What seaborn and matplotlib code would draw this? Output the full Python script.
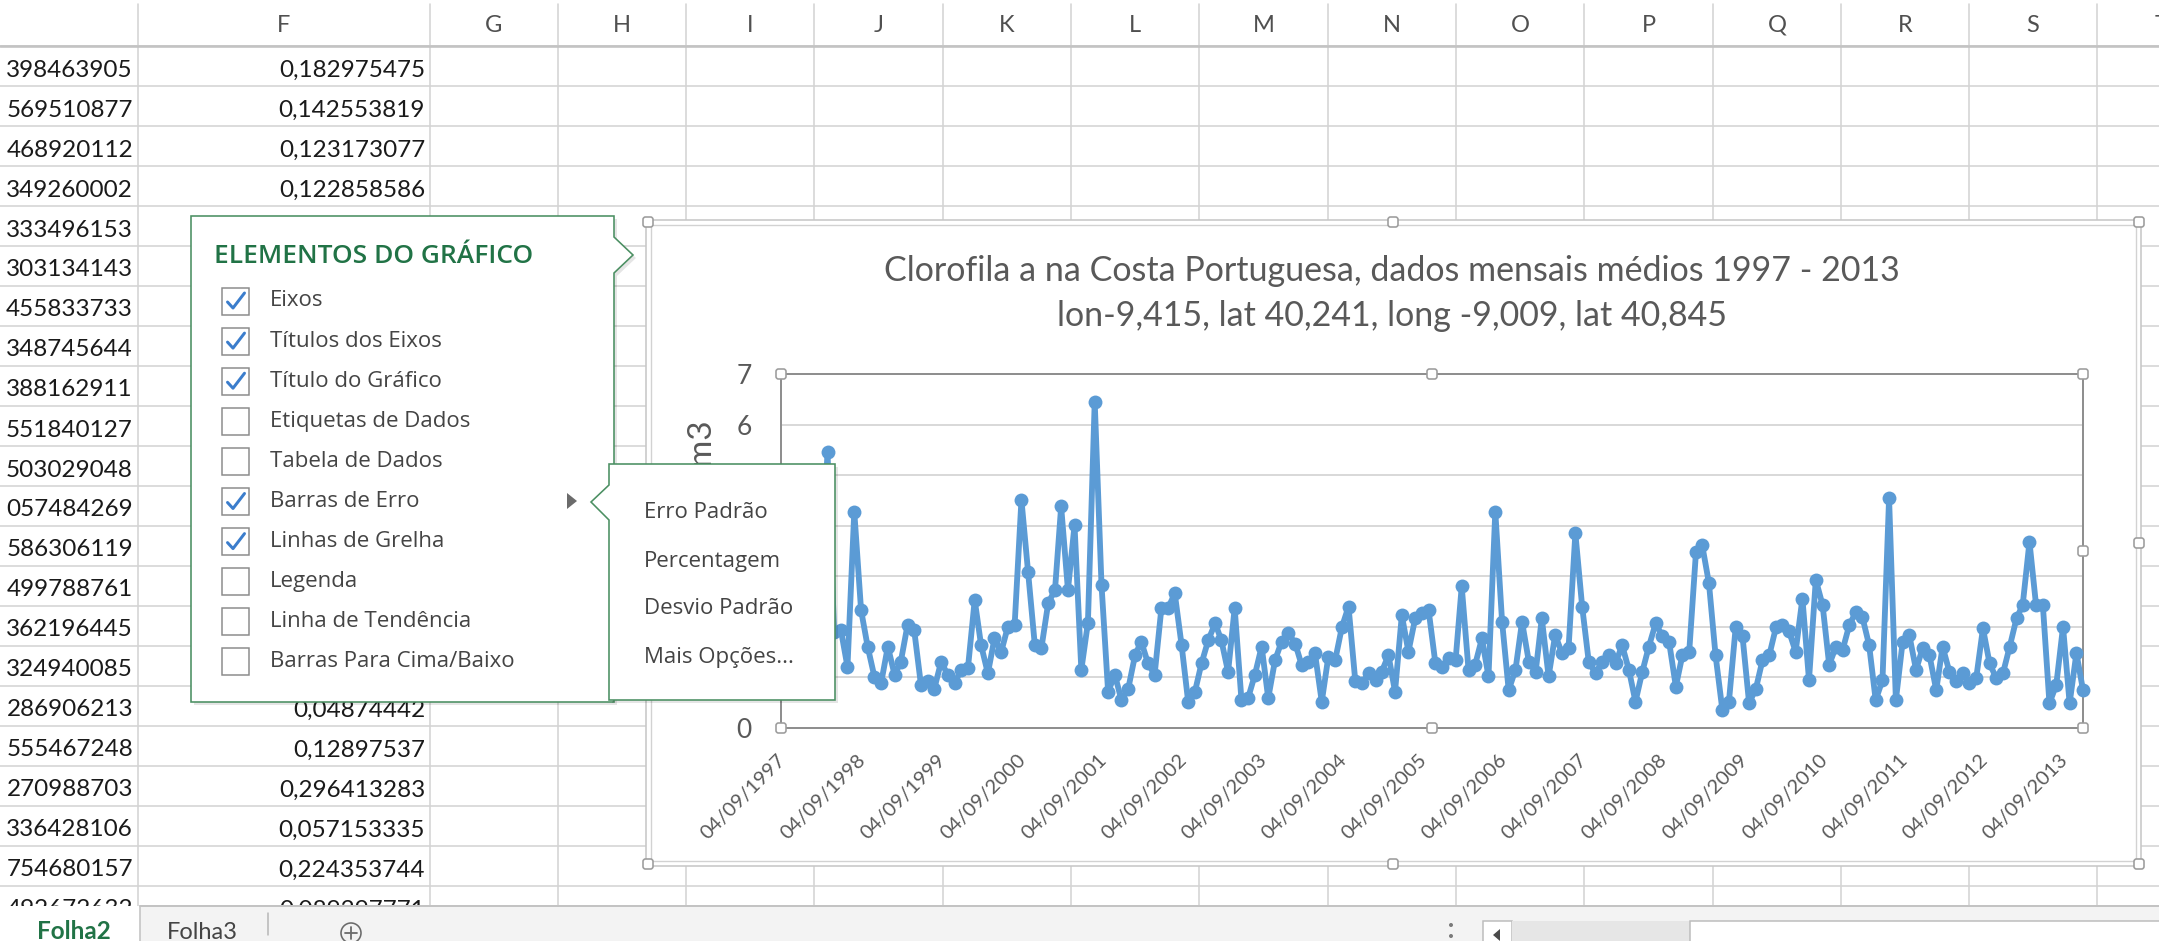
import numpy as np
import pandas as pd
import matplotlib
matplotlib.use("Agg")
import matplotlib.pyplot as plt
import matplotlib.dates as mdates
import matplotlib.transforms as mtransforms
from matplotlib.patches import Rectangle, Polygon, FancyBboxPatch, Circle
import seaborn as sns

# ---------------------------------------------------------------- data
# Monthly mean chlorophyll a (mg/m3), Sep 1997 - Dec 2013
chl_1997_1999 = [1.35, 1.10, 0.95, 1.20, 1.60, 2.10, 2.60, 5.46, 1.90, 1.94, 1.21, 4.28,
                 2.33, 1.61, 1.01, 0.88, 1.61, 1.05, 1.31, 2.04, 1.94, 0.85, 0.92, 0.78,
                 1.31, 1.05, 0.88, 1.15]
chl_2000_2003 = [1.18, 2.53, 1.64, 1.08, 1.77, 1.51, 2.00, 2.04, 4.51, 3.09, 1.64, 1.58,
                 2.47, 2.73, 4.38, 2.73, 4.01, 1.15, 2.08, 6.45, 2.83, 0.72, 1.05, 0.55,
                 0.78, 1.44, 1.71, 1.28, 1.05, 2.37, 2.37, 2.66, 1.64, 0.52, 0.72, 1.28,
                 1.74, 2.07, 1.74, 1.11, 2.37, 0.55, 0.59, 1.05, 1.61, 0.59, 1.34, 1.71]
chl_2004_2007 = [1.87, 1.67, 1.25, 1.31, 1.48, 0.52, 1.41, 1.34, 2.00, 2.40, 0.92, 0.88,
                 1.08, 0.95, 1.11, 1.44, 0.72, 2.23, 1.51, 2.17, 2.27, 2.33, 1.28, 1.21,
                 1.38, 1.34, 2.80, 1.15, 1.25, 1.77, 1.02, 4.28, 2.10, 0.75, 1.15, 2.10,
                 1.31, 1.11, 2.17, 1.02, 1.84, 1.48, 1.58, 3.85, 2.40, 1.31, 1.08, 1.31]
chl_2008_2011 = [1.44, 1.28, 1.64, 1.15, 0.52, 1.11, 1.61, 2.07, 1.81, 1.71, 0.82, 1.44,
                 1.51, 3.49, 3.62, 2.86, 1.44, 0.36, 0.52, 2.00, 1.81, 0.49, 0.78, 1.34,
                 1.44, 2.00, 2.04, 1.91, 1.51, 2.56, 0.95, 2.93, 2.43, 1.25, 1.61, 1.54,
                 2.04, 2.30, 2.20, 1.64, 0.55, 0.95, 4.54, 0.55, 1.71, 1.84, 1.15, 1.58]
chl_2012_2013 = [1.44, 0.75, 1.61, 1.11, 0.92, 1.08, 0.88, 0.98, 1.97, 1.28, 0.98, 1.08,
                 1.61, 2.17, 2.43, 3.68, 2.43, 2.43, 0.49, 0.85, 2.00, 0.49, 1.48, 0.75]

tick_labels = ["04/09/1997", "04/09/1998", "04/09/1999", "04/09/2000", "04/09/2001",
               "04/09/2002", "04/09/2003", "04/09/2004", "04/09/2005", "04/09/2006",
               "04/09/2007", "04/09/2008", "04/09/2009", "04/09/2010", "04/09/2011",
               "04/09/2012", "04/09/2013"]
y_ticks = [0, 1, 2, 3, 4, 5, 6, 7]

chart_title = ["Clorofila a na Costa Portuguesa, dados mensais médios 1997 - 2013",
               "lon-9,415, lat 40,241, long -9,009, lat 40,845"]
y_title = "Clorofila a mg/m3"

# spreadsheet contents
col_letters = ["F", "G", "H", "I", "J", "K", "L", "M", "N", "O", "P", "Q", "R", "S", "T"]
col_e = ["398463905", "569510877", "468920112", "349260002", "333496153", "303134143",
         "455833733", "348745644", "388162911", "551840127", "503029048", "057484269",
         "586306119", "499788761", "362196445", "324940085", "286906213", "555467248",
         "270988703", "336428106", "754680157", "492672632"]
col_f = ["0,182975475", "0,142553819", "0,123173077", "0,122858586", None, None, None,
         None, None, None, None, None, None, None, None, None, "0,04874442", "0,12897537",
         "0,296413283", "0,057153335", "0,224353744", "0,089297771"]

menu_title = "ELEMENTOS DO GRÁFICO"
menu_items = ["Eixos", "Títulos dos Eixos", "Título do Gráfico", "Etiquetas de Dados",
              "Tabela de Dados", "Barras de Erro", "Linhas de Grelha", "Legenda",
              "Linha de Tendência", "Barras Para Cima/Baixo"]
menu_checked = [True, True, True, False, False, True, True, False, False, False]
submenu_items = ["Erro Padrão", "Percentagem", "Desvio Padrão", "Mais Opções..."]
sheet_tabs = ["Folha2", "Folha3"]

chl = chl_1997_1999 + chl_2000_2003 + chl_2004_2007 + chl_2008_2011 + chl_2012_2013
dates = pd.date_range("1997-09-01", periods=len(chl), freq="MS") + pd.Timedelta(days=3)
df = pd.DataFrame({"data": dates, "chl": chl})
tick_dates = pd.to_datetime(tick_labels, format="%d/%m/%Y")

# ---------------------------------------------------------------- style
sns.set_style("white")
plt.rcParams["font.family"] = ["Lato", "DejaVu Sans"]
UI_FONT = ["Open Sans", "DejaVu Sans"]

W, H = 2159, 941
PT = 0.72                     # points per pixel at 100 dpi
BLUE = "#5B9BD5"
GREEN = "#217346"
TXT = "#595959"
GRID = "#d4d4d4"

fig = plt.figure(figsize=(W / 100, H / 100), dpi=100)

# ---------------------------------------------------------------- worksheet
bg = fig.add_axes([0, 0, 1, 1], zorder=0)
bg.set_xlim(0, W)
bg.set_ylim(H, 0)
bg.axis("off")

col_edges = [138, 430, 558, 686, 814, 943, 1071, 1199, 1328, 1456, 1584, 1713, 1841,
             1969, 2097, 2226]
for x in col_edges:
    bg.plot([x, x], [4, 906], color=GRID, lw=1.6 * PT, zorder=1)
for k in range(22):
    y = 46 + 40 * k
    bg.plot([0, W], [y, y], color=GRID, lw=1.6 * PT, zorder=1)
bg.plot([0, W], [46, 46], color="#c3c3c3", lw=2.6 * PT, zorder=1.5)

for i, letter in enumerate(col_letters):
    cx = (col_edges[i] + col_edges[i + 1]) / 2
    if letter == "T":
        cx = 2162
    bg.text(cx, 25, letter, ha="center", va="center", fontsize=17, color="#505050",
            zorder=2)

for k in range(22):
    yc = 70 + 40 * k
    bg.text(133, yc, col_e[k], ha="right", va="center", fontsize=17.5, color="#1a1a1a",
            zorder=2)
    if col_f[k] is not None:
        bg.text(425, yc, col_f[k], ha="right", va="center", fontsize=17.5,
                color="#1a1a1a", zorder=2)

# chart area (selected: double grey frame)
bg.add_patch(Rectangle((646, 220), 2141 - 646, 866 - 220, facecolor="white",
                       edgecolor="#c8c8c8", lw=1.6 * PT, zorder=3))
bg.add_patch(Rectangle((651, 225), 2136 - 651, 861 - 225, facecolor="none",
                       edgecolor="#d2d2d2", lw=1.4 * PT, zorder=3.1))
bg.text(1392, 271, chart_title[0], ha="center", va="center", fontsize=24.5, color=TXT,
        zorder=5)
bg.text(1392, 316, chart_title[1], ha="center", va="center", fontsize=24.5, color=TXT,
        zorder=5)

# sheet tab bar
bg.add_patch(Rectangle((0, 906), W, 40, facecolor="#f3f3f3", edgecolor="none", zorder=6))
bg.add_patch(Rectangle((0, 906), 140, 40, facecolor="white", edgecolor="none", zorder=6.1))
bg.plot([140, W], [906, 906], color="#c3c3c3", lw=2 * PT, zorder=6.2)
bg.plot([140, 140], [906, 941], color="#c3c3c3", lw=1.6 * PT, zorder=6.2)
bg.text(74, 939, sheet_tabs[0], ha="center", va="baseline", fontsize=17.5,
        fontweight="bold", color=GREEN, zorder=7)
bg.text(202, 939, sheet_tabs[1], ha="center", va="baseline", fontsize=17,
        color="#444444", zorder=7)
bg.plot([268, 268], [913, 935], color="#b5b5b5", lw=1.5 * PT, zorder=7)
bg.add_patch(Circle((351, 933), 10, facecolor="none", edgecolor="#6a6a6a", lw=1.6 * PT,
                    zorder=7))
bg.plot([345, 357], [933, 933], color="#6a6a6a", lw=1.8 * PT, zorder=7)
bg.plot([351, 351], [927, 939], color="#6a6a6a", lw=1.8 * PT, zorder=7)
for yy in (925, 936):
    bg.add_patch(Circle((1451, yy), 2, facecolor="#7a7a7a", edgecolor="none", zorder=7))
bg.add_patch(Rectangle((1483, 921), 29, 30, facecolor="white", edgecolor="#bcbcbc",
                       lw=1.5 * PT, zorder=7))
bg.add_patch(Polygon([(1500, 929), (1500, 941), (1493, 935)], closed=True,
                     facecolor="#4a4a4a", edgecolor="none", zorder=7.1))
bg.add_patch(Rectangle((1512, 921), 178, 30, facecolor="#e6e6e6", edgecolor="none",
                       zorder=7))
bg.add_patch(Rectangle((1690, 921), 480, 30, facecolor="white", edgecolor="#bcbcbc",
                       lw=1.5 * PT, zorder=7))

# ---------------------------------------------------------------- line chart
L, R, T, B = 781, 2083, 374, 728
ax = fig.add_axes([L / W, 1 - B / H, (R - L) / W, (B - T) / H], zorder=5)
ax.patch.set_alpha(0)
sns.lineplot(data=df, x="data", y="chl", ax=ax, color=BLUE, lw=4.2, marker="o",
             markersize=10, markeredgewidth=0, clip_on=False, zorder=3)

ax.set_xlim(mdates.date2num(dates[0]), mdates.date2num(dates[-1]))
ax.set_ylim(0, 7)
ax.set_yticks(y_ticks)
ax.set_yticklabels([str(v) for v in y_ticks])
ax.set_xticks(mdates.date2num(tick_dates.to_pydatetime()))
ax.set_xticklabels(tick_labels, rotation=45, ha="right", va="center",
                   rotation_mode="anchor")
ax.grid(axis="y", color="#d9d9d9", lw=2 * PT)
ax.grid(axis="x", visible=False)
ax.set_axisbelow(True)
for sp in ax.spines.values():
    sp.set_color("#8f8f8f")
    sp.set_linewidth(2 * PT)
ax.tick_params(axis="y", length=0, pad=21, labelsize=19, labelcolor=TXT)
ax.tick_params(axis="x", direction="out", length=6 * PT, width=1.5 * PT,
               color="#a6a6a6", pad=17, labelsize=14.5, labelcolor=TXT)
shift = mtransforms.ScaledTranslation(2 / 100, 0, fig.dpi_scale_trans)
for lab in ax.get_xticklabels():
    lab.set_transform(lab.get_transform() + shift)
ax.set_xlabel("")
ax.set_ylabel(y_title, fontsize=24, color=TXT)
ax.yaxis.set_label_coords((718 - L) / (R - L), (B - 553) / (B - T))

# ---------------------------------------------------------------- overlay
ov = fig.add_axes([0, 0, 1, 1], zorder=20)
ov.set_xlim(0, W)
ov.set_ylim(H, 0)
ov.axis("off")


def handle(x, y):
    ov.add_patch(FancyBboxPatch((x - 5, y - 5), 10, 10,
                                boxstyle="round,pad=0,rounding_size=2.5",
                                facecolor="white", edgecolor="#9c9c9c",
                                lw=1.6 * PT, zorder=2))


for hx, hy in [(L, T), ((L + R) / 2, T), (R, T), (R, (T + B) / 2), (R, B),
               ((L + R) / 2, B), (L, B), (L, (T + B) / 2)]:
    handle(hx, hy)
for hx, hy in [(648, 222), (1393, 222), (2139, 222), (2139, 543), (2139, 864),
               (1393, 864), (648, 864), (648, 543)]:
    handle(hx, hy)

# chart elements panel
main_pts = [(191, 216), (614, 216), (614, 237), (633, 255), (614, 273), (614, 702),
            (191, 702)]
ov.add_patch(Polygon([(x + 3, y + 3) for x, y in main_pts], closed=True,
                     facecolor=(0, 0, 0, 0.10), edgecolor="none", zorder=5))
ov.add_patch(Polygon(main_pts, closed=True, facecolor="white", edgecolor="#4b8f62",
                     lw=1.6 * PT, zorder=5.1))
ov.text(214, 256, menu_title, ha="left", va="center", fontsize=19,
        fontweight="semibold", color=GREEN, family=UI_FONT, zorder=6)
for k, (item, on) in enumerate(zip(menu_items, menu_checked)):
    yc = 301 + 40.1 * k
    ov.add_patch(Rectangle((222, yc - 13.5), 27, 27, facecolor="white",
                           edgecolor="#8a8a8a", lw=1.5 * PT, zorder=6))
    if on:
        ov.plot([227.5, 233, 244.5], [yc + 1, yc + 7, yc - 8], color="#3b7dcc",
                lw=3 * PT, solid_capstyle="round", solid_joinstyle="round", zorder=7)
    ov.text(270, yc, item, ha="left", va="center", fontsize=16, color="#444444",
            family=UI_FONT, zorder=6)
ov.add_patch(Polygon([(567, 493), (567, 509), (577, 501)], closed=True,
                     facecolor="#6b6b6b", edgecolor="none", zorder=6))

# error bar options submenu
sub_pts = [(609, 464), (835, 464), (835, 700), (609, 700), (609, 520), (591, 502),
           (609, 485)]
ov.add_patch(Polygon([(x + 3, y + 3) for x, y in sub_pts], closed=True,
                     facecolor=(0, 0, 0, 0.10), edgecolor="none", zorder=8))
ov.add_patch(Polygon(sub_pts, closed=True, facecolor="white", edgecolor="#4b8f62",
                     lw=1.6 * PT, zorder=8.1))
for k, item in enumerate(submenu_items):
    ov.text(644, 513 + 48 * k, item, ha="left", va="center", fontsize=16,
            color="#444444", family=UI_FONT, zorder=9)

fig.savefig("out.png", dpi=100)
